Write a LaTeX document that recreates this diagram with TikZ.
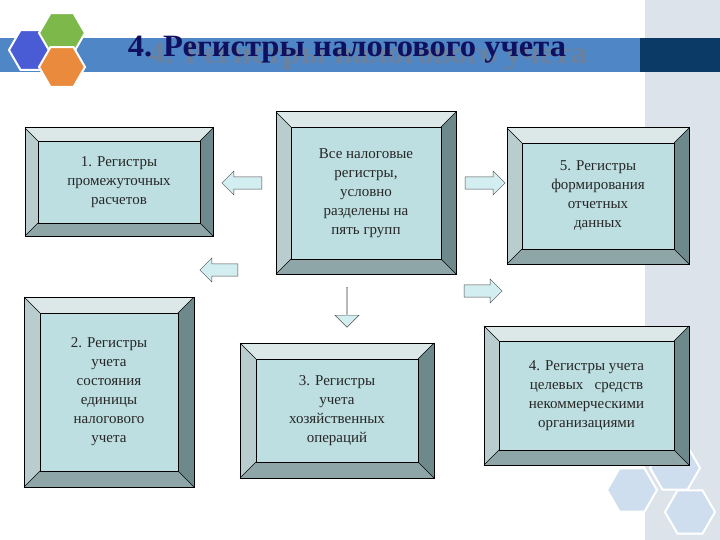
\documentclass[tikz,border=0pt]{standalone}
\usepackage{fontspec}
\setmainfont{Liberation Serif}
\usetikzlibrary{shapes.arrows,shapes.geometric}
\definecolor{face}{HTML}{BEDFE1}
\definecolor{btop}{HTML}{DCE7E8}
\definecolor{bleft}{HTML}{B9CCCE}
\definecolor{bright}{HTML}{6E898C}
\definecolor{bbot}{HTML}{8EA6A8}
\definecolor{band}{HTML}{4F86C6}
\definecolor{navy}{HTML}{0B3A66}
\definecolor{ttl}{HTML}{101060}
\definecolor{arr}{HTML}{D2EEF0}
\definecolor{strip}{HTML}{DDE3EA}
\definecolor{hblue}{HTML}{4A5BD6}
\definecolor{hgreen}{HTML}{7CB84A}
\definecolor{horange}{HTML}{E98A3C}
\definecolor{hpale}{HTML}{CEDEEE}
\newcommand{\bev}[7]{%
 \fill[btop] (#2,#3)--(#4,#3)--(#4-#6,#3+#6)--(#2+#6,#3+#6)--cycle;
 \fill[bleft] (#2,#3)--(#2+#6,#3+#6)--(#2+#6,#5-#6)--(#2,#5)--cycle;
 \fill[bright] (#4,#3)--(#4,#5)--(#4-#6,#5-#6)--(#4-#6,#3+#6)--cycle;
 \fill[bbot] (#2,#5)--(#4,#5)--(#4-#6,#5-#6)--(#2+#6,#5-#6)--cycle;
 \draw[thin] (#2,#3)--(#2+#6,#3+#6) (#4,#3)--(#4-#6,#3+#6) (#2,#5)--(#2+#6,#5-#6) (#4,#5)--(#4-#6,#5-#6);
 \draw[fill=face,thin] (#2+#6,#3+#6) rectangle (#4-#6,#5-#6);
 \draw[line width=1pt] (#2,#3) rectangle (#4,#5);
 \node[txt] (#1) at ({(#2+#4)/2},{(#3+#5)/2}) {#7};}
\tikzset{txt/.style={font=\fontsize{15}{19}\selectfont,color=black!85,align=center},
 barr/.style={single arrow,draw=black!70,fill=arr,minimum height=40pt,minimum width=24pt,single arrow head extend=5pt,inner sep=0pt,text height=10pt,text depth=0pt,thin},
 hexa/.style={regular polygon,regular polygon sides=6,minimum size=46pt,draw=white,line width=2pt,inner sep=0pt}}
\begin{document}
\begin{tikzpicture}[x=1pt,y=-1pt]
\useasboundingbox (0,0) rectangle (720,540);
\fill[white] (0,0) rectangle (720,540);
\fill[strip] (645,0) rectangle (720,540);
\fill[band] (0,38) rectangle (645,72);
\fill[navy] (640,38) rectangle (720,72);
\node[hexa,fill=hblue] at (32,50) {};
\node[hexa,fill=hgreen] at (62,33) {};
\node[hexa,fill=horange] at (62,67) {};
\node[font=\bfseries\fontsize{31}{34}\selectfont,color=gray!55!band,xscale=1.05] at (368,57) {4. Регистры налогового учета};
\node[font=\bfseries\fontsize{31}{34}\selectfont,color=ttl,xscale=1.05] (title) at (347,50) {4. Регистры налогового учета};
\node[hexa,minimum size=50pt,fill=hpale] at (632,490) {};
\node[hexa,minimum size=50pt,fill=hpale] at (675,468) {};
\node[hexa,minimum size=50pt,fill=hpale] at (690,512) {};
\bev{b1}{25}{128}{213}{236}{13}{1. Регистры\\промежуточных\\расчетов}
\bev{b0}{276}{112}{456}{274}{15}{Все налоговые\\регистры,\\условно\\разделены на\\пять групп}
\bev{b5}{507}{128}{689}{264}{15}{5. Регистры\\формирования\\отчетных\\данных}
\bev{b2}{24}{297}{194}{487}{16}{2. Регистры\\учета\\состояния\\единицы\\налогового\\учета}
\bev{b3}{240}{343}{434}{478}{16}{3. Регистры\\учета\\хозяйственных\\операций}
\bev{b4}{484}{326}{689}{465}{15}{4. Регистры учета\\целевых \ \ средств\\некоммерческими\\организациями}
\node[barr,shape border rotate=180] (a1) at (245,183) {};
\node[barr] (a5) at (482,183) {};
\node[barr,shape border rotate=270] (a3) at (347,307) {};
\node[barr,shape border rotate=215,minimum height=38pt] (a2) at (222,270) {};
\node[barr,shape border rotate=325,minimum height=38pt] (a4) at (480,291) {};
\end{tikzpicture}
\end{document}
